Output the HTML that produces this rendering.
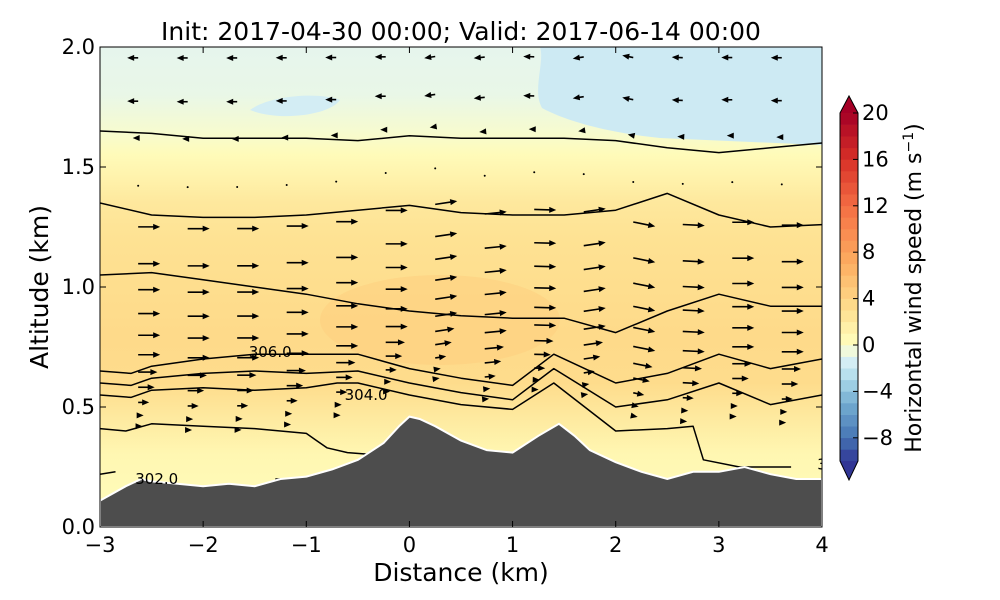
<!DOCTYPE html>
<html><head><meta charset="utf-8"><style>
body{margin:0;background:#fff;}
svg{display:block;font-family:"DejaVu Sans","Liberation Sans",sans-serif;}
</style></head><body>
<svg id="chart" width="1000" height="600" viewBox="0 0 1000 600">
<defs>
<linearGradient id="bg" x1="0" y1="0" x2="0" y2="1"></linearGradient>
<clipPath id="clip"><rect x="100" y="47" width="722" height="480"/></clipPath>
</defs>
<text x="461" y="40" font-size="25" text-anchor="middle">Init: 2017-04-30 00:00; Valid: 2017-06-14 00:00</text>
<g id="plot" clip-path="url(#clip)"></g>
<rect x="100" y="47" width="722" height="480" fill="none" stroke="#000" stroke-width="1"/>
<g id="axes"></g>
<g id="cbar"></g>
<text x="0" y="0" font-size="25" text-anchor="middle" transform="translate(48,287) rotate(-90)">Altitude (km)</text>
<text x="461" y="581" font-size="25" text-anchor="middle">Distance (km)</text>
<text x="0" y="0" font-size="22" text-anchor="middle" transform="translate(921,288) rotate(-90)">Horizontal wind speed (m s<tspan dy="-8" font-size="14">−1</tspan><tspan dy="8">)</tspan></text>
</svg>
<script>
// ---- data ----
const xTicks=[-3,-2,-1,0,1,2,3,4];
const yTicks=[0.0,0.5,1.0,1.5,2.0];
const cbTicks=[20,16,12,8,4,0,-4,-8];
const profileAlt=[2.0,1.8,1.65,1.55,1.45,1.35,1.2,1.0,0.8,0.6,0.45,0.3,0.15,0];
const profileSpeed=[-0.8,-0.7,-0.3,0.4,1.3,2.2,2.8,3.2,3.5,3.3,2.0,0.8,0.5,0.5];
const terrainX=[-3,-2.75,-2.6,-2.5,-2.25,-2,-1.75,-1.5,-1.25,-1,-0.75,-0.5,-0.25,-0.1,0,0.1,0.25,0.5,0.75,1,1.25,1.45,1.6,1.75,2,2.25,2.5,2.75,3,3.25,3.5,3.75,4];
const terrainH=[0.11,0.17,0.2,0.19,0.18,0.17,0.18,0.17,0.2,0.21,0.24,0.28,0.35,0.42,0.46,0.45,0.42,0.36,0.32,0.31,0.38,0.43,0.38,0.32,0.27,0.23,0.2,0.23,0.23,0.25,0.22,0.2,0.2];
const line1X=[-3,-2.5,-2,-1.5,-1,-0.5,0,0.5,1,1.5,2,2.5,3,3.5,4];
const line1Y=[1.65,1.64,1.62,1.62,1.62,1.61,1.63,1.62,1.62,1.62,1.61,1.58,1.56,1.58,1.6];
const line2Y=[1.35,1.3,1.29,1.29,1.3,1.32,1.34,1.31,1.3,1.3,1.32,1.39,1.3,1.25,1.26];
const line3Y=[1.05,1.06,1.03,1.0,0.97,0.93,0.9,0.88,0.87,0.87,0.81,0.9,0.97,0.92,0.92];
const line4X=[-3,-2.7,-2.5,-2,-1.5,-1,-0.5,0,0.5,1,1.4,2,2.5,3,3.5,4];
const line4Y=[0.65,0.64,0.67,0.7,0.72,0.72,0.72,0.66,0.62,0.59,0.72,0.6,0.64,0.72,0.66,0.7];
const line5Y=[0.6,0.59,0.62,0.64,0.65,0.64,0.65,0.6,0.56,0.53,0.66,0.5,0.53,0.6,0.51,0.55];
const line6X=[-3,-2.7,-2.5,-2,-1.5,-1,-0.7,-0.5,0,0.5,1,1.4,2,2.5,2.75,2.85,3.2,3.7];
const line6Y=[0.55,0.54,0.57,0.58,0.57,0.58,0.6,0.6,0.55,0.51,0.49,0.6,0.4,0.41,0.42,0.28,0.25,0.25];
const line7X=[-3,-2.75,-2.5,-2,-1.5,-1,-0.9,-0.8,-0.6,-0.3];
const line7Y=[0.41,0.4,0.43,0.42,0.41,0.39,0.36,0.33,0.31,0.3];
const line8X=[-1.3,-0.9,-0.6,-0.3];
const line8Y=[0.2,0.2,0.21,0.23];
const arrowColX=[-2.63,-2.15,-1.67,-1.19,-0.71,-0.23,0.25,0.73,1.21,1.69,2.17,2.65,3.13,3.61];
const arrowColTilt=[0,0,0,0,0,0,-0.3,-0.2,0.05,-0.3,0.4,0.1,0,0];
const arrowRowLevel=[1.95,1.75,1.58,1.36,1.17,1.0,0.88,0.77,0.67,0.58,0.5,0.43,0.36,0.3,0.25];
const arrowRowU=[-2,-2,-1,0.5,4,4,4,4,4,4,3.5,3,2,1,0.8];

// ---- scales ----
const X=v=>100+(v+3)*722/7;
const Y=v=>527-v*240;
const NS='http://www.w3.org/2000/svg';
function mk(tag,attrs,parent){const e=document.createElementNS(NS,tag);for(const k in attrs)e.setAttribute(k,attrs[k]);parent.appendChild(e);return e;}
const cStops=[[-10,[49,54,149]],[-8,[69,117,180]],[-5,[116,173,209]],[-3,[171,217,233]],[-1,[224,243,248]],[0,[255,255,191]],[3,[254,224,144]],[7,[253,174,97]],[12,[244,109,67]],[16,[215,48,39]],[20,[165,0,38]]];
function col(s){s=Math.max(-10,Math.min(20,s));for(let i=0;i<cStops.length-1;i++){const a=cStops[i],b=cStops[i+1];if(s<=b[0]){const t=(s-a[0])/(b[0]-a[0]);return 'rgb('+a[1].map((c,j)=>Math.round(c+(b[1][j]-c)*t)).join(',')+')';}}return 'rgb(165,0,38)';}
function terr(x){for(let i=0;i<terrainX.length-1;i++){if(x<=terrainX[i+1]){const t=(x-terrainX[i])/(terrainX[i+1]-terrainX[i]);return terrainH[i]+(terrainH[i+1]-terrainH[i])*t;}}return terrainH[terrainH.length-1];}

// background
const grad=document.getElementById('bg');
profileAlt.forEach((a,i)=>{mk('stop',{offset:((2-a)/2),'stop-color':col(profileSpeed[i])},grad);});
const plot=document.getElementById('plot');
const bgr=mk('rect',{x:100,y:47,width:722,height:480,fill:'url(#bg)'},plot);


const patch=mk('path',{d:'M540,47 L822,47 L822,145 L660,138 C600,132 560,118 542,108 C532,90 545,62 540,47 Z',fill:col(-1.7)},plot);


const patch2=mk('path',{d:'M250,110 C270,95 320,92 340,100 C330,115 280,122 250,110 Z',fill:col(-1.5)},plot);


const core=mk('ellipse',{cx:440,cy:320,rx:120,ry:45,fill:col(4.5),opacity:0.5},plot);



// contour lines
function poly(xs,ys,name){const d=xs.map((x,i)=>(i?'L':'M')+X(x).toFixed(1)+','+Y(ys[i]).toFixed(1)).join(' ');const p=mk('path',{d:d,fill:'none',stroke:'#000','stroke-width':1.5,'stroke-linejoin':'round'},plot);}
poly(line1X,line1Y,'theta-contour-1');
poly(line1X,line2Y,'theta-contour-2');
poly(line1X,line3Y,'theta-contour-3');
poly(line4X,line4Y,'theta-contour-306');
poly(line4X,line5Y,'theta-contour-5');
poly(line6X,line6Y,'theta-contour-304');
poly(line7X,line7Y,'theta-contour-7');
poly(line8X,line8Y,'theta-contour-302');
poly([-3,-2.85],[0.22,0.23],'theta-contour-302-left');

// arrows
arrowColX.forEach((cx,ci)=>{
  const th=terr(cx);
  arrowRowLevel.forEach((lv,ri)=>{
    const alt=lv+th*(1-lv/2);
    if(alt<th+0.05)return;
    const u=arrowRowU[ri]*(alt<th+0.15?0.3:1);
    const L=u*5.5, tilt=arrowColTilt[ci];
    const x0=X(cx),y0=Y(alt);
    const g=mk('g',{},plot);
    
    
    if(Math.abs(L)<3){mk('circle',{cx:x0,cy:y0,r:1,fill:'#000'},g);return;}
    const dx=L, dy=L*tilt*0.5;
    const len=Math.hypot(dx,dy),ux=dx/len,uy=dy/len;
    const x1=x0+dx,y1=y0+dy;
    mk('line',{x1:x0,y1:y0,x2:x1-ux*5,y2:y1-uy*5,stroke:'#000','stroke-width':1.6},g);
    mk('path',{d:`M${x1},${y1} L${x1-ux*7-uy*3},${y1-uy*7+ux*3} L${x1-ux*7+uy*3},${y1-uy*7-ux*3} Z`,fill:'#000'},g);
  });
});

// terrain
let td='M'+X(-3)+','+Y(0);
terrainX.forEach((x,i)=>{td+=' L'+X(x).toFixed(1)+','+Y(terrainH[i]).toFixed(1);});
td+=' L'+X(4)+','+Y(0)+' Z';
const tp=mk('path',{d:td,fill:'#4d4d4d',stroke:'#fff','stroke-width':2},plot);



// contour labels
[['306.0',-1.35,0.73],['304.0',-0.42,0.55],['302.0',-2.45,0.2],['3',4.0,0.26]].forEach(l=>{
  const t=mk('text',{x:X(l[1]),y:Y(l[2])+5,'font-size':15,'text-anchor':'middle'},plot);
  t.textContent=l[0];
  
  
});

// axes
const ax=document.getElementById('axes');
xTicks.forEach(v=>{
  mk('line',{x1:X(v),y1:527,x2:X(v),y2:521,stroke:'#000'},ax);
  mk('line',{x1:X(v),y1:47,x2:X(v),y2:53,stroke:'#000'},ax);
  const t=mk('text',{x:X(v),y:552,'font-size':21,'text-anchor':'middle'},ax);
  t.textContent=(v<0?'−'+(-v):v);
  
  
});
yTicks.forEach(v=>{
  mk('line',{x1:100,y1:Y(v),x2:106,y2:Y(v),stroke:'#000'},ax);
  mk('line',{x1:822,y1:Y(v),x2:816,y2:Y(v),stroke:'#000'},ax);
  const t=mk('text',{x:95,y:Y(v)+7,'font-size':21,'text-anchor':'end'},ax);
  t.textContent=v.toFixed(1);
  
  
});

// colorbar
const cb=document.getElementById('cbar');
const CY=v=>113+(20-v)*11.6;
for(let s=-10;s<20;s++){
  const r=mk('rect',{x:840,y:CY(s+1),width:18,height:11.9,fill:col(s+0.5)},cb);
  
  
}
mk('path',{d:`M840,113 L849,96 L858,113 Z`,fill:col(20)},cb);
mk('path',{d:`M840,461 L849,480 L858,461 Z`,fill:col(-10)},cb);
mk('path',{d:`M840,113 L849,96 L858,113 L858,461 L849,480 L840,461 Z`,fill:'none',stroke:'#000','stroke-width':1},cb);
cbTicks.forEach(v=>{
  mk('line',{x1:853,y1:CY(v),x2:858,y2:CY(v),stroke:'#000'},cb);
  const t=mk('text',{x:862,y:CY(v)+7,'font-size':21},cb);
  t.textContent=(v<0?'−'+(-v):v);
  
  
});
</script>
</body></html>
